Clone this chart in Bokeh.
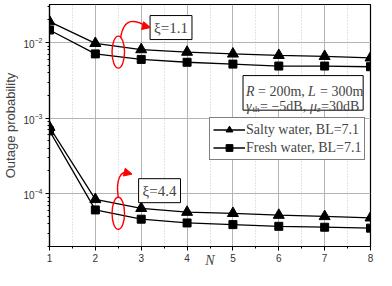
from bokeh.plotting import figure
from bokeh.models import (FixedTicker, Label, BoxAnnotation, Arrow, NormalHead, Legend)
from bokeh.embed import file_html
from bokeh.resources import INLINE

# ---- data ----
N = [1, 2, 3, 4, 5, 6, 7, 8]
salty_xi11 = [1.9e-2, 9.8e-3, 8.1e-3, 7.5e-3, 7.1e-3, 6.8e-3, 6.6e-3, 6.3e-3]
fresh_xi11 = [1.47e-2, 7.1e-3, 6.0e-3, 5.5e-3, 5.2e-3, 4.9e-3, 4.9e-3, 4.8e-3]
salty_xi44 = [7.6e-4, 8.4e-5, 6.4e-5, 5.7e-5, 5.5e-5, 5.2e-5, 5.0e-5, 4.8e-5]
fresh_xi44 = [6.8e-4, 6.1e-5, 4.6e-5, 4.1e-5, 3.9e-5, 3.7e-5, 3.6e-5, 3.5e-5]
x_ticks = [1, 2, 3, 4, 5, 6, 7, 8]
x_minor = [1.5, 2.5, 3.5, 4.5, 5.5, 6.5, 7.5]
legend_labels = ["Salty water, BL=7.1", "Fresh water, BL=7.1"]

SERIF = "Liberation Serif"
SANS = "Liberation Sans"

p = figure(width=376, height=270, x_range=(1, 8), y_range=(2e-5, 3.2e-2),
           y_axis_type="log", output_backend="svg", toolbar_location=None,
           min_border_left=4, min_border_right=6, min_border_top=4, min_border_bottom=4)
p.background_fill_color = "white"
p.border_fill_color = "white"
p.outline_line_color = "black"
p.outline_line_width = 1.2

xt = FixedTicker(ticks=x_ticks, minor_ticks=x_minor)
p.xaxis.ticker = xt
p.xaxis.axis_label = "N"
p.xaxis.axis_label_text_font = SERIF
p.xaxis.axis_label_text_font_style = "italic"
p.xaxis.axis_label_text_font_size = "14px"
p.xaxis.axis_label_standoff = -12
p.yaxis.axis_label = "Outage probability"
p.yaxis.axis_label_text_font = SANS
p.yaxis.axis_label_text_font_style = "normal"
p.yaxis.axis_label_text_font_size = "13px"
p.yaxis.axis_label_standoff = 2
for ax in (p.xaxis[0], p.yaxis[0]):
    ax.major_label_text_font = SANS
    ax.major_label_text_font_size = "10px"
    ax.major_label_text_color = "#333333"
    ax.axis_line_color = "black"
    ax.axis_line_width = 1.2
    ax.major_tick_in = 0
    ax.major_tick_out = 4
    ax.minor_tick_in = 0
    ax.minor_tick_out = 2
    ax.major_label_standoff = 3

p.xgrid.ticker = xt
p.xgrid.grid_line_color = "#b4b4b4"
p.xgrid.grid_line_width = 1
p.xgrid.minor_grid_line_color = "#c8c8c8"
p.xgrid.minor_grid_line_dash = "1 2"
p.ygrid.grid_line_color = "#b4b4b4"
p.ygrid.grid_line_width = 1

# ---- series ----
r1l = p.line(N, salty_xi11, line_color="black", line_width=1.3)
r1m = p.scatter(N, salty_xi11, marker="triangle", size=11, color="black")
r2l = p.line(N, fresh_xi11, line_color="black", line_width=1.3)
r2m = p.scatter(N, fresh_xi11, marker="square", size=8, color="black")
p.line(N, salty_xi44, line_color="black", line_width=1.3)
p.scatter(N, salty_xi44, marker="triangle", size=11, color="black")
p.line(N, fresh_xi44, line_color="black", line_width=1.3)
p.scatter(N, fresh_xi44, marker="square", size=8, color="black")

legend = Legend(items=[(legend_labels[0], [r1l, r1m]), (legend_labels[1], [r2l, r2m])],
                location=(160, 86))
legend.label_text_font = SERIF
legend.label_text_font_size = "14px"
legend.border_line_color = "black"
legend.border_line_width = 1
legend.background_fill_alpha = 1
legend.glyph_width = 32
legend.glyph_height = 17
legend.label_height = 17
legend.spacing = 1
legend.padding = 3
legend.margin = 0
legend.label_standoff = 1
p.add_layout(legend, "center")

# ---- annotations ----
for (xc, yc, txt) in [(3.65, 10 ** -1.80, "\u03be=1.1"), (3.4, 10 ** -3.96, "\u03be=4.4")]:
    p.add_layout(Label(x=xc, y=yc, text=txt, text_font=SERIF, text_font_size="15px",
                       text_align="center", text_baseline="middle",
                       border_line_color="black", border_line_width=1,
                       background_fill_color="white", padding=4))

p.ellipse(x=[2.5, 2.5], y=[7.5e-3, 5.5e-5], width=12.5, height=32,
          width_units="screen", height_units="screen",
          fill_color=None, line_color="red", line_width=1.4)
p.bezier(x0=[2.55, 2.5], y0=[10 ** -1.94, 10 ** -4.05],
         cx0=[2.62, 2.44], cy0=[10 ** -1.66, 10 ** -3.82],
         cx1=[2.85, 2.55], cy1=[10 ** -1.69, 10 ** -3.67],
         x1=[3.15, 2.74], y1=[10 ** -1.79, 10 ** -3.73],
         line_color="red", line_width=1.4)
for (xs, ys, xe, ye) in [(3.1, 10 ** -1.785, 3.2, 10 ** -1.80), (2.7, 10 ** -3.725, 2.8, 10 ** -3.74)]:
    p.add_layout(Arrow(end=NormalHead(size=8, fill_color="red", line_color="red"),
                       x_start=xs, y_start=ys, x_end=xe, y_end=ye,
                       line_color="red", line_width=1.4))

# parameter box
p.add_layout(BoxAnnotation(left=5.22, right=7.84, top=10 ** -2.436, bottom=10 ** -2.894,
                           fill_color="white", fill_alpha=1, line_color="black",
                           line_alpha=1, line_width=1, level="annotation"))
x0 = 5.285
y1 = 10 ** -2.645
y2 = 10 ** -2.841
pieces1 = [("R", "italic", 0, 0, "14px"), ("= 200m,", "normal", 12, 0, "14px"),
           ("L", "italic", 62, 0, "14px"), ("= 300m", "normal", 74, 0, "14px")]
pieces2 = [("\u03b3", "italic", 0, 0, "14px"), ("th", "normal", 6.5, -3, "9px"),
           ("= \u22125dB,", "normal", 14, 0, "14px"), ("\u03bc", "italic", 64, 0, "14px"),
           ("z", "italic", 71, -3, "9px"), ("=30dB", "normal", 75, 0, "14px")]
for yy, pieces in [(y1, pieces1), (y2, pieces2)]:
    for (t, st, dx, dy, fs) in pieces:
        p.add_layout(Label(x=x0, y=yy, x_offset=dx, y_offset=dy, text=t, text_font=SERIF,
                           text_font_style=st, text_font_size=fs, text_align="left",
                           text_baseline="alphabetic"))

open("out.html", "w").write(file_html(p, INLINE))
